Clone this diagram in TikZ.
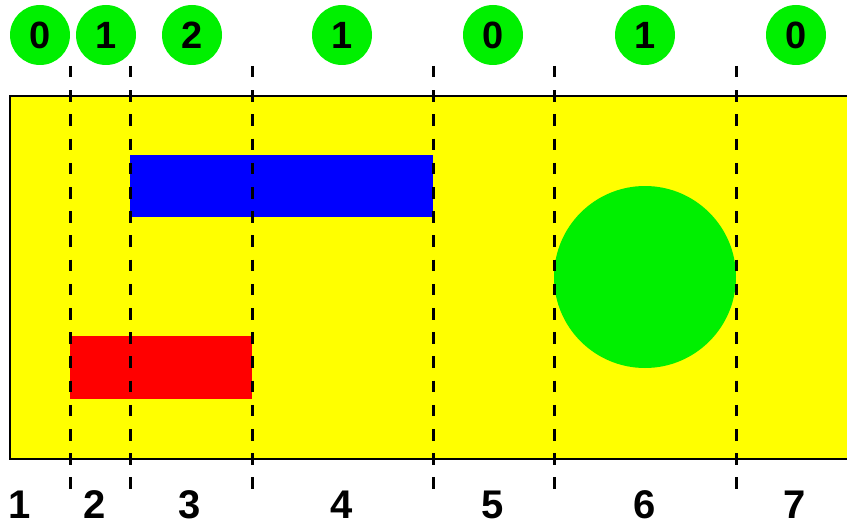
\documentclass[tikz,border=0pt]{standalone}
\usepackage{fontspec}
\setmainfont{Liberation Sans}
\definecolor{yel}{RGB}{255,255,0}
\definecolor{grn}{RGB}{0,240,0}
\definecolor{blu}{RGB}{0,0,255}
\definecolor{rd}{RGB}{255,0,0}
\tikzset{
  cnt/.style={circle,fill=grn,minimum size=60pt,inner sep=0pt,font=\fontsize{38}{38}\selectfont\bfseries},
  lab/.style={inner sep=0pt,font=\fontsize{40}{40}\selectfont\bfseries},
  sep/.style={line width=3pt,dash pattern=on 11.5pt off 12.7pt,black},
}
\begin{document}
\begin{tikzpicture}[x=1pt,y=-1pt]
\useasboundingbox (0,0) rectangle (847,527);
\fill[yel] (10,96) rectangle (852,459);
\fill[blu] (130,155) rectangle (433,217);
\fill[rd] (70,336) rectangle (252,399);
\fill[grn] (645,277) circle (91);
\draw[line width=2.8pt] (10,96) rectangle (852,459);
\foreach \x [count=\i] in {70,130,252,433,554,736}{
  \coordinate (t\i) at (\x,66);
  \coordinate (b\i) at (\x,489);
  \draw[sep] (t\i) -- (b\i);
}
\foreach \x/\n [count=\i] in {40/0,106/1,192/2,342/1,493/0,645/1,796/0}{
  \node[cnt] (c\i) at (\x,35) {\n};
}
\foreach \x [count=\i] in {20,95,190,342,493,645,795}{
  \node[lab,anchor=base] (l\i) at (\x,518) {\i};
}
\end{tikzpicture}
\end{document}
